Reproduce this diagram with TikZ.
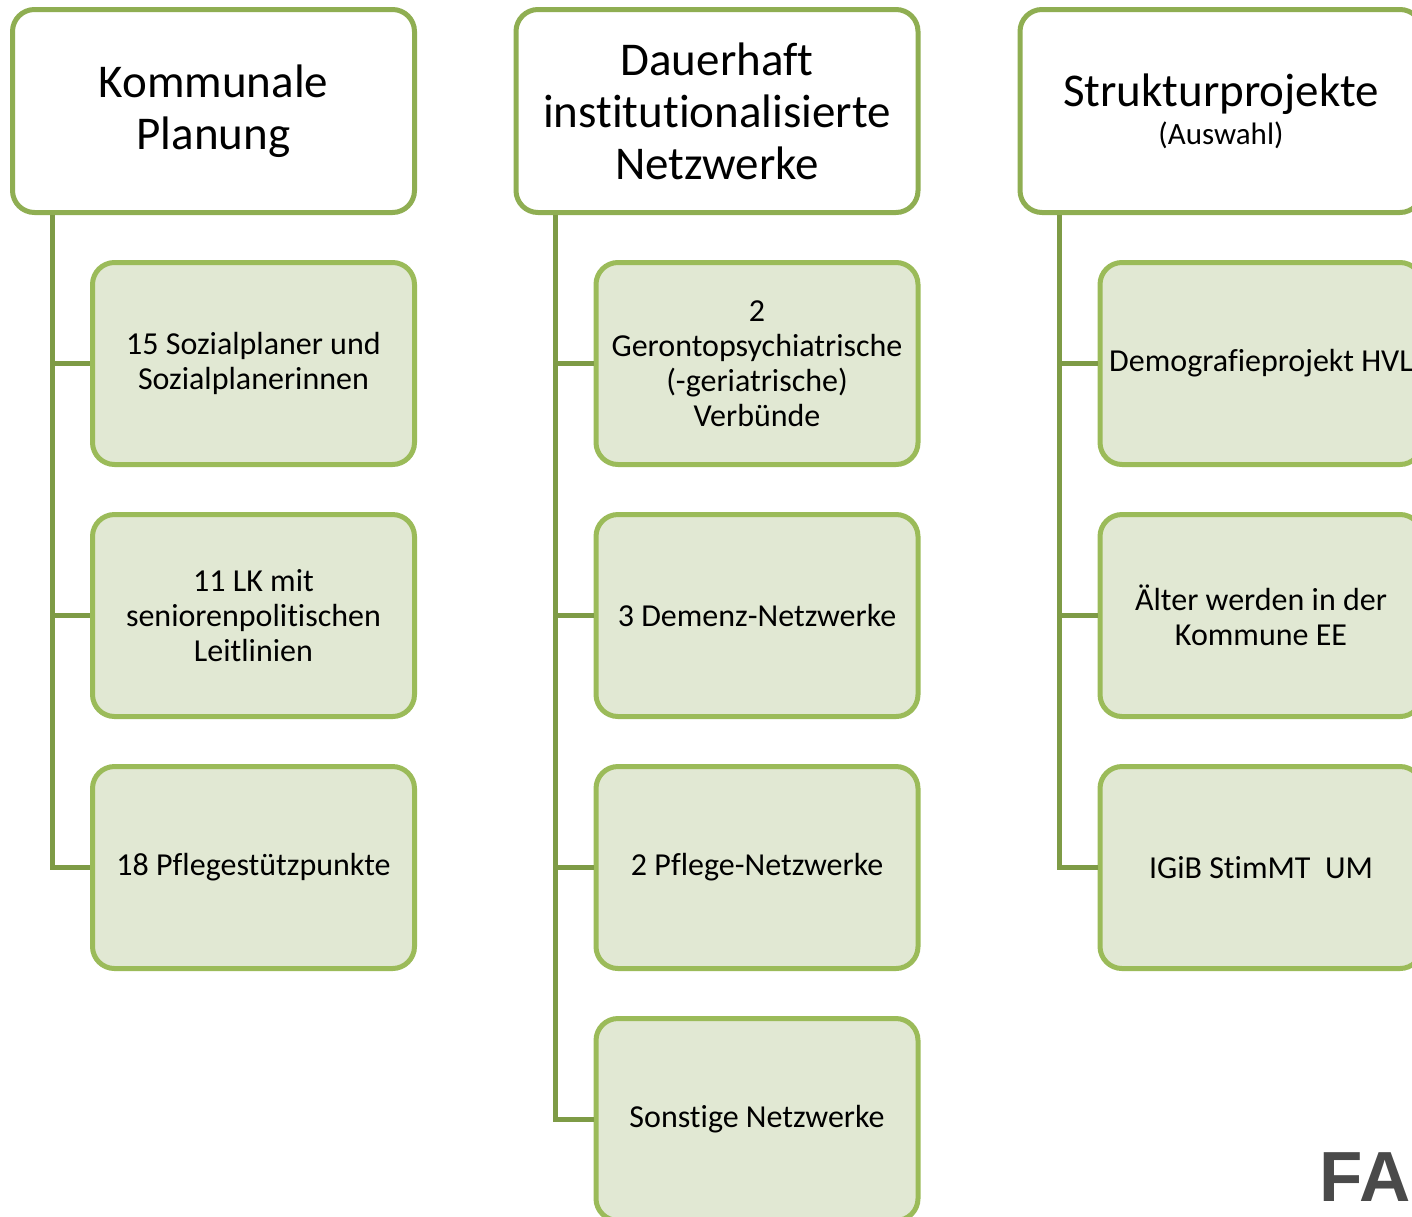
\documentclass[tikz,border=0pt]{standalone}
\usepackage{fontspec}
\setmainfont[Ligatures={NoCommon}]{Carlito}
\setsansfont{Liberation Sans}
\usetikzlibrary{positioning}
\definecolor{leafgreen}{HTML}{9BBB59}
\definecolor{headgreen}{HTML}{8FAE52}
\definecolor{linegreen}{HTML}{7E9B46}
\definecolor{leaffill}{HTML}{E1E8D3}
\definecolor{logogray}{HTML}{4A4A4A}

\begin{document}
\begin{tikzpicture}[
  x=1pt, y=-1pt,
  box/.style={draw=leafgreen, line width=5pt, rounded corners=22pt, align=center, inner sep=4pt},
  head/.style={box, draw=headgreen, fill=white, minimum width=402pt, minimum height=203pt, font=\fontsize{47}{52}\selectfont},
  item/.style={box, fill=leaffill, minimum width=322pt, minimum height=202pt, font=\fontsize{32}{35}\selectfont},
  link/.style={draw=linegreen, line width=5pt},
  logo/.style={font=\sffamily\bfseries\fontsize{71}{71}\selectfont, text=logogray}
]

\clip (0,0) rectangle (1412,1216);

% === KOMMUNALE PLANUNG ===
\node[head] (kp) at (213.5, 111) {Kommunale\\Planung};
\node[item] (kp1) at (253.5, 363.5) {15 Sozialplaner und\\Sozialplanerinnen};
\node[item] (kp2) at (253.5, 615.5) {11 LK mit\\seniorenpolitischen\\Leitlinien};
\node[item] (kp3) at (253.5, 867.5) {18 Pflegestützpunkte};

\draw[link] ([xshift=42pt]kp.south west) |- (kp1.west);
\draw[link] ([xshift=42pt]kp.south west) |- (kp2.west);
\draw[link] ([xshift=42pt]kp.south west) |- (kp3.west);

% === NETZWERKE ===
\node[head] (nw) at (717, 111) {Dauerhaft\\institutionalisierte\\Netzwerke};
\node[item] (nw1) at (757, 363.5) {2\\Gerontopsychiatrische\\(-geriatrische)\\Verbünde};
\node[item] (nw2) at (757, 615.5) {3 Demenz-Netzwerke};
\node[item] (nw3) at (757, 867.5) {2 Pflege-Netzwerke};
\node[item] (nw4) at (757, 1119.5) {Sonstige Netzwerke};

\draw[link] ([xshift=42pt]nw.south west) |- (nw1.west);
\draw[link] ([xshift=42pt]nw.south west) |- (nw2.west);
\draw[link] ([xshift=42pt]nw.south west) |- (nw3.west);
\draw[link] ([xshift=42pt]nw.south west) |- (nw4.west);

% === STRUKTURPROJEKTE ===
\node[head] (sp) at (1221, 111)
  {Strukturprojekte\\[-14pt]{\fontsize{31}{35}\selectfont (Auswahl)}};
\node[item] (sp1) at (1261, 363.5) {Demografieprojekt HVL};
\node[item] (sp2) at (1261, 615.5) {Älter werden in der\\Kommune EE};
\node[item] (sp3) at (1261, 867.5) {IGiB StimMT~ UM};

\draw[link] ([xshift=42pt]sp.south west) |- (sp1.west);
\draw[link] ([xshift=42pt]sp.south west) |- (sp2.west);
\draw[link] ([xshift=42pt]sp.south west) |- (sp3.west);

\node[logo] (fa) at (1365, 1177) {FA};

\end{tikzpicture}
\end{document}
